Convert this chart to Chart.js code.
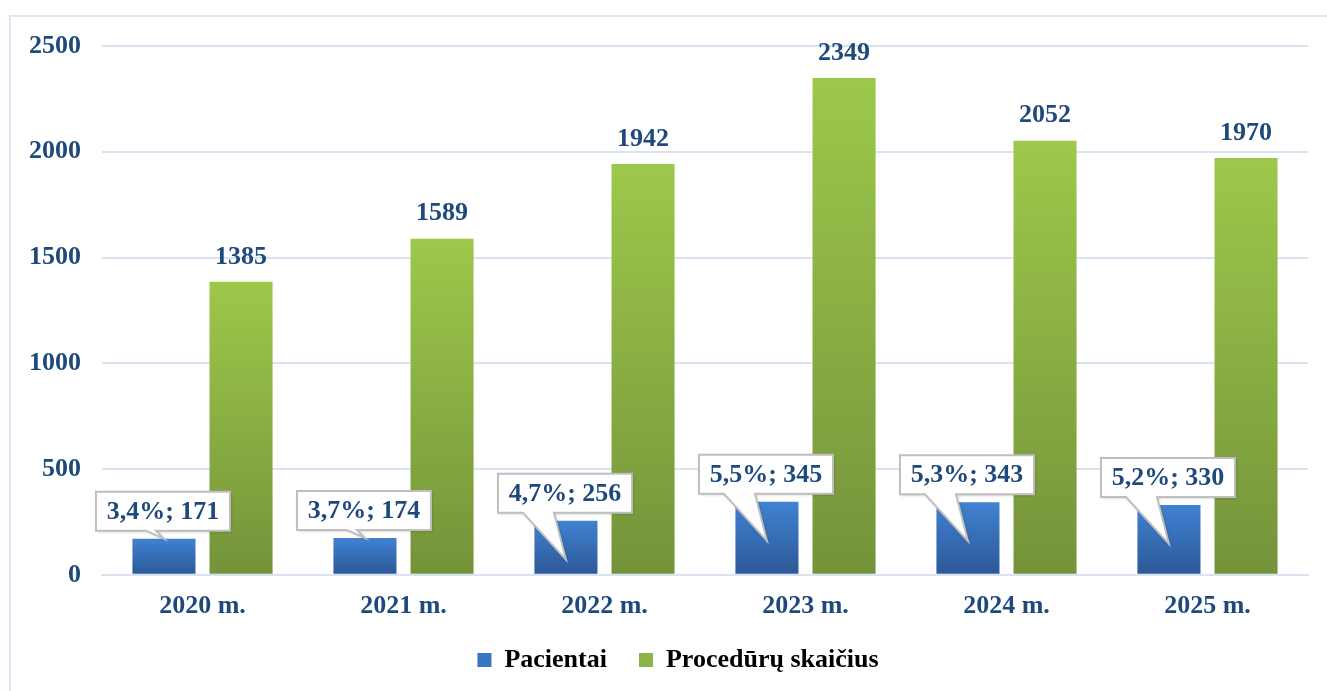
<!DOCTYPE html>
<html>
<head>
<meta charset="utf-8">
<script src="https://cdn.jsdelivr.net/npm/chart.js@4/dist/chart.umd.min.js"></script>
<style>
  body { margin: 0; background: #fff; }
  #frame { position: absolute; left: 9px; top: 15px; right: -5px; bottom: -5px; border-left: 2px solid #dce6f4; border-top: 2px solid #dce6f4; }
  #wrap { position: absolute; left: 0; top: 0; width: 1327px; height: 691px; }
</style>
</head>
<body>
<div id="frame"></div>
<div id="wrap"><canvas id="myChart"></canvas></div>
<script>
const years = ['2020 m.', '2021 m.', '2022 m.', '2023 m.', '2024 m.', '2025 m.'];
const patients = [171, 174, 256, 345, 343, 330];
const patientShare = [3.4, 3.7, 4.7, 5.5, 5.3, 5.2];
const procedures = [1385, 1589, 1942, 2349, 2052, 1970];
const yTicks = [0, 500, 1000, 1500, 2000, 2500];

const textColor = '#1f497d';
const serif = 'Liberation Serif, Times New Roman, serif';

// vertical gradient for one bar, from its top down to the zero line
function barGradient(context, top, bottom) {
    const chart = context.chart;
    if (!chart.chartArea) return top;
    const v = context.raw;
    const y0 = chart.scales.y.getPixelForValue(0);
    const y1 = chart.scales.y.getPixelForValue(v);
    const g = chart.ctx.createLinearGradient(0, y1, 0, y0);
    g.addColorStop(0, top);
    g.addColorStop(1, bottom);
    return g;
}

// value labels above green bars
const valueLabels = {
    id: 'valueLabels',
    afterDatasetsDraw(chart) {
        const ctx = chart.ctx;
        const meta = chart.getDatasetMeta(1);
        ctx.save();
        ctx.font = 'bold 26px ' + serif;
        ctx.fillStyle = textColor;
        ctx.textAlign = 'center';
        ctx.textBaseline = 'bottom';
        meta.data.forEach((bar, i) => {
            ctx.fillText(procedures[i], bar.x, bar.y - 12);
        });
        ctx.restore();
    }
};

// callouts over the blue bars
const callouts = {
    id: 'callouts',
    afterDatasetsDraw(chart) {
        const ctx = chart.ctx;
        const meta = chart.getDatasetMeta(0);
        const base = chart.scales.y.getPixelForValue(0);
        const w = 134, h = 39;
        ctx.save();
        meta.data.forEach((bar, i) => {
            const left = bar.x - 68;
            const bottom = bar.y - 8;
            const top = bottom - h;
            let tipY = bottom + 47;
            let b1 = left + 25, b2 = left + 56;
            if (tipY > base - 10) {
                tipY = bar.y;
                b1 = bar.x - 18; b2 = bar.x - 8;
            }
            ctx.beginPath();
            ctx.moveTo(left, top);
            ctx.lineTo(left + w, top);
            ctx.lineTo(left + w, bottom);
            ctx.lineTo(b2, bottom);
            ctx.lineTo(bar.x, tipY);
            ctx.lineTo(b1, bottom);
            ctx.lineTo(left, bottom);
            ctx.closePath();
            ctx.shadowColor = 'rgba(0,0,0,0.25)';
            ctx.shadowBlur = 3;
            ctx.shadowOffsetX = 1;
            ctx.shadowOffsetY = 1;
            ctx.fillStyle = '#ffffff';
            ctx.fill();
            ctx.shadowColor = 'transparent';
            ctx.strokeStyle = '#bfbfbf';
            ctx.lineWidth = 2;
            ctx.stroke();
            ctx.font = 'bold 26px ' + serif;
            ctx.fillStyle = textColor;
            ctx.textAlign = 'center';
            ctx.textBaseline = 'middle';
            const txt = patientShare[i].toFixed(1).replace('.', ',') + '%; ' + patients[i];
            ctx.fillText(txt, left + w / 2, top + h / 2 + 1);
        });
        ctx.restore();
    }
};

// legend sits a little right of the canvas centre in the original
const legendShift = {
    id: 'legendShift',
    afterLayout(chart) {
        chart.legend.left += 20;
        chart.legend.right += 20;
    }
};

const ctx = document.getElementById('myChart');

new Chart(ctx, {
    type: 'bar',
    data: {
        labels: years,
        datasets: [{
            label: 'Pacientai',
            data: patients,
            backgroundColor: (c) => barGradient(c, '#4082d2', '#2c5896'),
            categoryPercentage: 0.767,
            barPercentage: 0.818
        }, {
            label: 'Procedūrų skaičius',
            data: procedures,
            backgroundColor: (c) => barGradient(c, '#9dc84b', '#74933a'),
            categoryPercentage: 0.767,
            barPercentage: 0.818
        }]
    },
    options: {
        responsive: true,
        maintainAspectRatio: false,
        animation: false,
        layout: {
            padding: { left: 8, right: 19, top: 46, bottom: 8 }
        },
        scales: {
            x: {
                grid: { display: false, drawTicks: false },
                border: { color: '#d9e3f2', width: 2 },
                ticks: {
                    color: textColor,
                    font: { family: serif, size: 26, weight: 'bold' },
                    padding: 16
                },
                afterFit: (axis) => { axis.height -= 23; }
            },
            y: {
                min: 0,
                max: 2500,
                afterBuildTicks: (axis) => { axis.ticks = yTicks.map(v => ({ value: v })); },
                grid: { color: '#d9e3f2', lineWidth: 2, drawTicks: false },
                border: { display: false },
                ticks: {
                    color: textColor,
                    font: { family: serif, size: 26, weight: 'bold' },
                    padding: 21,
                    callback: (v) => String(v)
                }
            }
        },
        plugins: {
            tooltip: { enabled: false },
            legend: {
                position: 'bottom',
                labels: {
                    color: textColor,
                    font: { family: serif, size: 26, weight: 'bold' },
                    boxWidth: 14,
                    boxHeight: 14,
                    padding: 32,
                    generateLabels: (chart) => [
                        { text: 'Pacientai', fillStyle: '#3a74c0', strokeStyle: '#3a74c0', lineWidth: 0, datasetIndex: 0 },
                        { text: 'Procedūrų skaičius', fillStyle: '#8cb345', strokeStyle: '#8cb345', lineWidth: 0, datasetIndex: 1 }
                    ]
                }
            }
        }
    },
    plugins: [valueLabels, callouts, legendShift]
});
</script>
</body>
</html>
